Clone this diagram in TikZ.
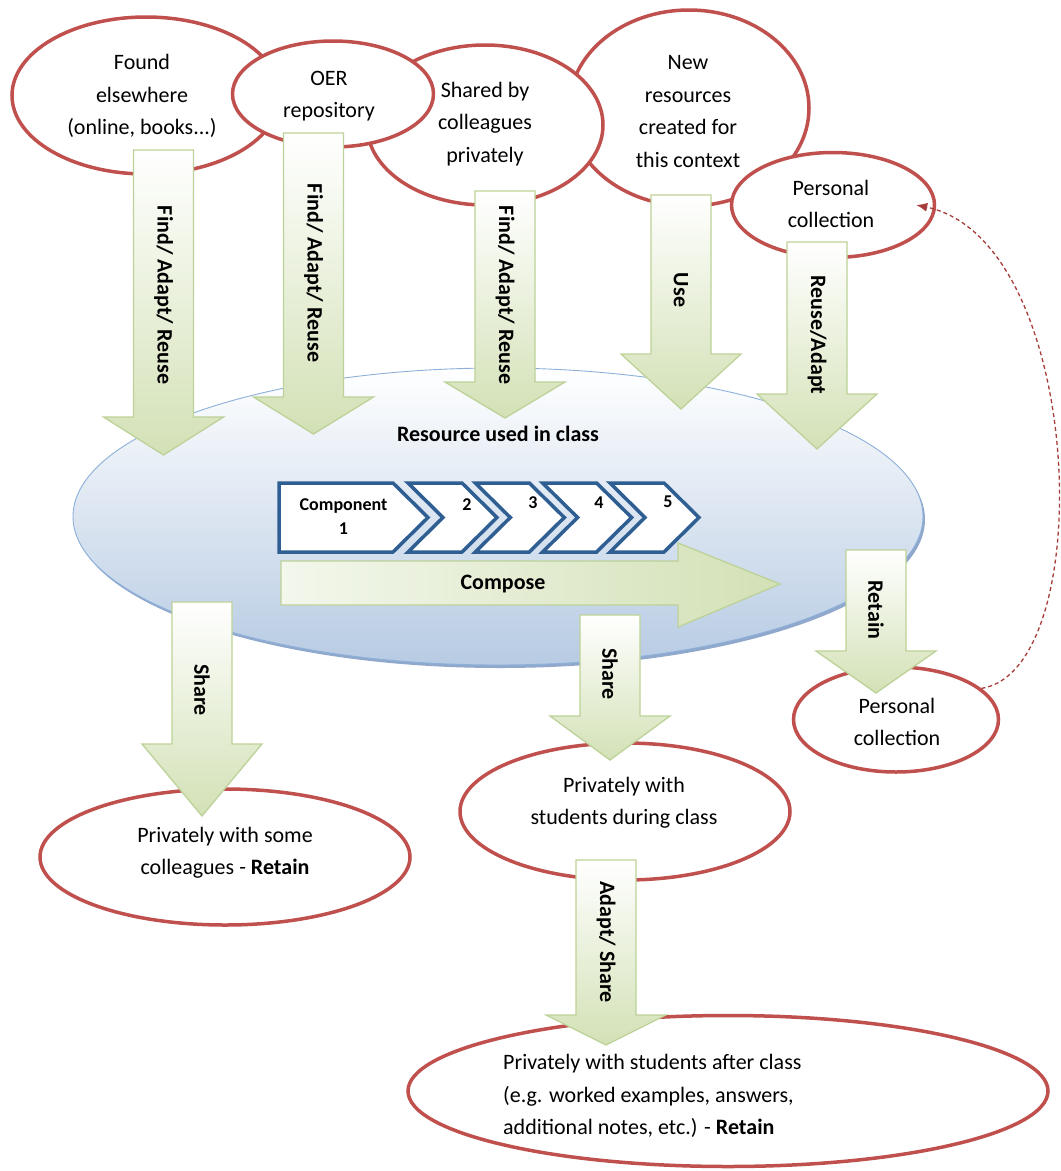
\documentclass[tikz,border=0pt]{standalone}
\usepackage{fontspec}
\setmainfont{Carlito}
\usetikzlibrary{arrows.meta,calc,shapes.geometric}
\definecolor{ered}{HTML}{C0504D}
\definecolor{agreen}{HTML}{D3E1B6}
\definecolor{aborder}{HTML}{BDD298}
\definecolor{cblue}{HTML}{2F5E93}
\definecolor{bigbot}{HTML}{B7CBE3}
\definecolor{bigline}{HTML}{8DB0DA}
\definecolor{bigshadow}{HTML}{8FA8CB}
\definecolor{dashred}{HTML}{A63D3A}
\definecolor{composel}{HTML}{F3F7EC}
\tikzset{
  redell/.style={ellipse, draw=ered, line width=3.5pt, fill=white, inner sep=0pt},
  txt/.style={font=\fontsize{22}{32.5}\selectfont, align=center, inner sep=0pt, text=black},
  alabel/.style={font=\bfseries\fontsize{22}{26}\selectfont, rotate=-90, inner sep=0pt, text=black},
  arrowshape/.style={top color=white, bottom color=agreen, draw=aborder, line width=1.3pt, line join=miter},
  chev/.style={fill=white, draw=cblue, line width=3.5pt, line join=miter},
  clabel/.style={font=\bfseries\fontsize{18}{24}\selectfont, align=center, inner sep=0pt, text=black}
}
% name, cx, top, head y, tip y, label, label y
\newcommand\blockdown[7]{%
  \path[arrowshape] (#2-30,#3) -- (#2+30,#3) -- (#2+30,#4) -- (#2+60,#4) -- (#2,#5)
     -- (#2-60,#4) -- (#2-30,#4) -- cycle;
  \node[alabel] (#1) at (#2,#7) {#6};
}
\begin{document}
\begin{tikzpicture}[x=1pt,y=-1pt]
\useasboundingbox (0,0) rectangle (1061,1171);
\fill[white] (0,0) rectangle (1061,1171);

% ---- top source ellipses ----
\node[redell, minimum width=240pt, minimum height=196pt] (newres) at (689,108) {};
\node[redell, minimum width=236pt, minimum height=160pt] (shared) at (485,125) {};
\node[redell, minimum width=268pt, minimum height=157pt] (found) at (146,95.5) {};
\node[redell, minimum width=201pt, minimum height=106pt] (oer) at (333,94) {};
\node[redell, minimum width=203pt, minimum height=105pt] (ptop) at (833,205) {};

\node[txt] (tfound) at (142,96) {Found\\elsewhere\\(online, books...)};
\node[txt] (toer) at (329,96) {OER\\repository};
\node[txt] (tshared) at (485,124) {Shared by\\colleagues\\privately};
\node[txt] (tnew) at (688,111.5) {New\\resources\\created for\\this context};
\node[txt] (tptop) at (831,204) {Personal\\collection};

% ---- big ellipse ----
\node[ellipse, fill=bigshadow, minimum width=850pt, minimum height=297pt, inner sep=0pt] (bigsh) at (500,519.5) {};
\node[ellipse, top color=white, bottom color=bigbot, draw=bigline, line width=0.9pt,
      minimum width=850pt, minimum height=297pt, inner sep=0pt] (big) at (498,516.5) {};
\node[font=\bfseries\fontsize{22}{26}\selectfont, inner sep=0pt] (tbig) at (498,434) {Resource used in class};

% ---- bottom ellipses ----
\node[redell, minimum width=370pt, minimum height=136pt] (bl) at (225,857) {};
\node[redell, minimum width=330pt, minimum height=137pt] (mid) at (625,811.5) {};
\node[redell, minimum width=205pt, minimum height=105pt] (pbot) at (896,719.5) {};
\node[redell, minimum width=640pt, minimum height=151pt] (bot) at (728,1091) {};

\node[txt] (tbl) at (225,852.5) {Privately with some\\colleagues - {\bfseries Retain}};
\node[txt] (tmid) at (624,802.5) {Privately with\\students during class};
\node[txt] (tpbot) at (897,722) {Personal\\collection};
\node[txt, align=left, anchor=west] (tbot) at (503,1096) {Privately with students after class\\(e.g. worked examples, answers,\\additional notes, etc.) - {\bfseries Retain}};

% ---- incoming arrows ----
\blockdown{a1}{163.5}{150}{417}{455}{Find/ Adapt/ Reuse}{295}
\blockdown{a2}{313.5}{133}{397}{434}{Find/ Adapt/ Reuse}{273}
\blockdown{a3}{505}{191}{382}{418}{Find/ Adapt/ Reuse}{295}
\blockdown{a4}{681}{195}{354}{409}{Use}{290}
\blockdown{a5}{817}{242}{394}{449}{Reuse/Adapt}{335}

% ---- chevrons ----
\draw[chev] (279,483) -- (393,483) -- (428,517.5) -- (393,552) -- (279,552) -- cycle;
\foreach \t in {408,475.3,542.6,610}{
  \draw[chev] (\t,483) -- (\t+54,483) -- (\t+89,517.5) -- (\t+54,552) -- (\t,552) -- (\t+35,517.5) -- cycle;
}
\node[clabel] (c1) at (343.5,517) {Component\\1};
\node[clabel] (c2) at (467,505) {2};
\node[clabel] (c3) at (533,503) {3};
\node[clabel] (c4) at (599,503) {4};
\node[clabel] (c5) at (668,502) {5};

% ---- compose arrow ----
\path[left color=composel, right color=agreen, draw=aborder, line width=1.3pt, line join=miter]
  (281,561) -- (678,561) -- (678,543) -- (780,584) -- (678,627) -- (678,605) -- (281,605) -- cycle;
\node[font=\bfseries\fontsize{22}{26}\selectfont, inner sep=0pt] (tcompose) at (503,584) {Compose};

% ---- outgoing arrows ----
\blockdown{a6}{202}{602}{744}{816}{Share}{690}
\blockdown{a7}{610}{615}{716}{760}{Share}{674}
\blockdown{a8}{876}{550}{651}{693}{Retain}{610}
\blockdown{a9}{606}{860}{1015}{1045}{Adapt/ Share}{942}

% ---- dashed return arrow ----
\coordinate (ptip) at ([xshift=-20pt]ptop.east);
\draw[dashred, line width=1.3pt, dash pattern=on 4pt off 3pt, -{Latex[length=11pt,width=9pt]}]
  (pbot.20) .. controls (1100,670) and (1085,240) .. (ptip);
\end{tikzpicture}
\end{document}
